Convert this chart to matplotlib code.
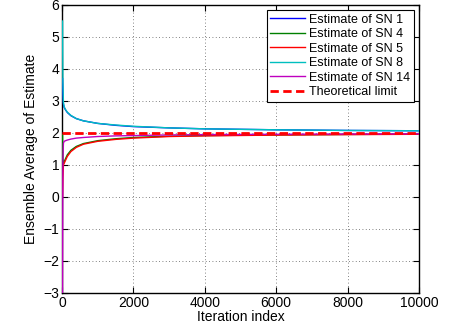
import matplotlib
matplotlib.use("Agg")
import matplotlib.pyplot as plt

plt.rcParams["font.family"] = ["Liberation Sans", "DejaVu Sans"]

# iteration points (denser near the start, where the curves move fast)
iters = [15, 25, 40, 60, 100, 150, 250, 400, 600, 1000, 1500, 2000, 3000, 4000, 6000, 8000, 10000]

sn1 = [3.70, 3.20, 2.90, 2.80, 2.72, 2.64, 2.54, 2.45, 2.38, 2.30, 2.24, 2.20, 2.16, 2.13, 2.10, 2.08, 2.07]
sn4 = [1.95, 1.20, 1.05, 1.10, 1.20, 1.32, 1.46, 1.58, 1.67, 1.76, 1.82, 1.86, 1.90, 1.92, 1.94, 1.955, 1.965]
sn5 = [0.00, 0.60, 1.00, 1.05, 1.15, 1.27, 1.42, 1.55, 1.65, 1.74, 1.80, 1.84, 1.89, 1.91, 1.935, 1.95, 1.96]
sn8 = [5.50, 3.60, 2.95, 2.82, 2.73, 2.65, 2.55, 2.45, 2.38, 2.30, 2.25, 2.21, 2.16, 2.13, 2.10, 2.08, 2.07]
sn14 = [-3.00, 1.20, 1.68, 1.74, 1.76, 1.78, 1.81, 1.84, 1.86, 1.89, 1.91, 1.92, 1.94, 1.95, 1.96, 1.97, 1.975]
limit = 2.0

series = [
    ("Estimate of SN 1", sn1, (0, 0, 1)),
    ("Estimate of SN 4", sn4, (0, 0.5, 0)),
    ("Estimate of SN 5", sn5, (1, 0, 0)),
    ("Estimate of SN 8", sn8, (0, 0.75, 0.75)),
    ("Estimate of SN 14", sn14, (0.75, 0, 0.75)),
]

fig = plt.figure(figsize=(4.63, 3.25), dpi=100)
ax = fig.add_axes([62 / 463, 1 - 293 / 325, (419 - 62) / 463, (293 - 5) / 325])

for label, vals, color in series:
    ax.plot(iters, vals, color=color, linewidth=1.0, label=label, zorder=3)
ax.plot([0, iters[-1]], [limit, limit], color="red", linestyle="--",
        linewidth=2.0, dashes=(3, 1.6), label="Theoretical limit", zorder=3)

ax.set_xlim(0, 10000)
ax.set_ylim(-3, 6)
ax.set_xticks(range(0, 10001, 2000))
ax.set_yticks(range(-3, 7))
ax.tick_params(direction="in", top=True, right=True, labelsize=10, length=4, pad=2)
ax.grid(True, linestyle=(0, (1, 3)), color="0.35", linewidth=0.6)
for s in ax.spines.values():
    s.set_linewidth(1.0)
    s.set_zorder(2.5)
ax.set_xlabel("Iteration index", fontsize=10, labelpad=0)
ax.set_ylabel("Ensemble Average of Estimate", fontsize=10, labelpad=4)

leg = ax.legend(loc="upper right", fontsize=9, fancybox=False, framealpha=1,
                edgecolor="black", borderaxespad=0.4, handlelength=2.8,
                labelspacing=0.2, handletextpad=0.3, borderpad=0.3)
leg.get_frame().set_linewidth(0.8)
leg.set_zorder(5)

fig.savefig("out.png", dpi=100)
